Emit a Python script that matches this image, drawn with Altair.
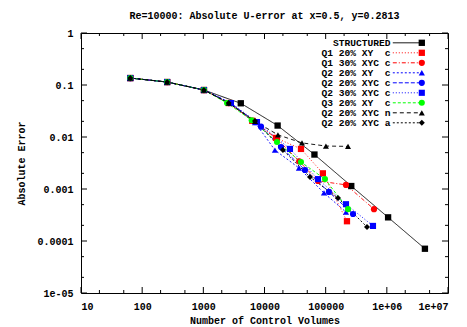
import altair as alt
import pandas as pd

# ---------------- data ----------------
series_names = ["STRUCTURED", "Q1 20% XY  c", "Q1 30% XYC c", "Q2 20% XY  c",
                "Q2 20% XYC c", "Q2 30% XYC c", "Q3 20% XY  c", "Q2 20% XYC n",
                "Q2 20% XYC a"]

x_structured = [64, 256, 1024, 4096, 16384, 65536, 262144, 1048576, 4194304]
y_structured = [0.136, 0.114, 0.080, 0.0445, 0.0166, 0.0046, 0.00114, 0.000285, 0.000071]

x_q1_20_xy = [64, 256, 1024, 2600, 6300, 15400, 39500, 90000, 223000]
y_q1_20_xy = [0.136, 0.114, 0.080, 0.045, 0.0205, 0.0096, 0.0059, 0.0020, 0.00024]

x_q1_30_xyc = [64, 256, 1024, 2600, 6500, 16000, 37000, 75000, 215000, 617000]
y_q1_30_xyc = [0.136, 0.114, 0.080, 0.045, 0.0205, 0.0092, 0.0034, 0.00143, 0.0012, 0.00041]

x_q2_20_xy = [64, 256, 1024, 2700, 7000, 14800, 36600, 93900, 215000]
y_q2_20_xy = [0.136, 0.114, 0.080, 0.045, 0.019, 0.0056, 0.00254, 0.00084, 0.00036]

x_q2_20_xyc = [64, 256, 1024, 2800, 8770, 18600, 45900, 113000, 280000]
y_q2_20_xyc = [0.136, 0.114, 0.080, 0.045, 0.0158, 0.0064, 0.00232, 0.00088, 0.00033]

x_q2_30_xyc = [64, 256, 1024, 2830, 7540, 26100, 74900, 215000, 594000]
y_q2_30_xyc = [0.136, 0.114, 0.080, 0.045, 0.0194, 0.0059, 0.00155, 0.00051, 0.000195]

x_q3_20_xy = [64, 256, 1024, 2440, 6170, 16000, 39500, 97500, 232000]
y_q3_20_xy = [0.136, 0.114, 0.080, 0.045, 0.021, 0.0080, 0.0033, 0.00155, 0.00041]

x_q2_20_xyc_n = [64, 256, 1024, 2600, 7000, 16600, 41000, 101000, 232000]
y_q2_20_xyc_n = [0.136, 0.114, 0.080, 0.045, 0.020, 0.011, 0.0077, 0.0067, 0.0066]

x_q2_20_xyc_a = [64, 256, 1024, 2600, 7000, 20000, 55500, 159000, 474000]
y_q2_20_xyc_a = [0.136, 0.114, 0.080, 0.045, 0.0203, 0.0056, 0.0017, 0.00067, 0.000186]

x_major = [10, 100, 1000, 10000, 100000, 1000000, 10000000]
y_major = [1, 0.1, 0.01, 0.001, 0.0001, 0.00001]
x_minor = [20, 50, 200, 500, 2000, 5000, 20000, 50000, 200000, 500000, 2000000, 5000000]
y_minor = [0.5, 0.2, 0.05, 0.02, 0.005, 0.002, 0.0005, 0.0002, 0.00005, 0.00002]

# ---------------- styles ----------------
colors = ["#000000", "#ff0000", "#ff0000", "#0000ff", "#0000ff", "#0000ff",
          "#00ff00", "#000000", "#000000"]
shapes = ["square", "square", "circle", "triangle-up", "circle", "square",
          "circle", "triangle-up", "diamond"]
sizes = [40, 36, 30, 24, 30, 56, 30, 24, 24]
dashes = [[1, 0], [1, 2], [4, 2, 1, 2], [2, 2], [4, 2], [1, 2], [3, 2], [4, 3], [2, 2]]

all_x = [x_structured, x_q1_20_xy, x_q1_30_xyc, x_q2_20_xy, x_q2_20_xyc,
         x_q2_30_xyc, x_q3_20_xy, x_q2_20_xyc_n, x_q2_20_xyc_a]
all_y = [y_structured, y_q1_20_xy, y_q1_30_xyc, y_q2_20_xy, y_q2_20_xyc,
         y_q2_30_xyc, y_q3_20_xy, y_q2_20_xyc_n, y_q2_20_xyc_a]

NB = "\u00a0"
labels = [(s + "  " if s == "STRUCTURED" else s).replace(" ", NB) for s in series_names]
marks = ["m%d" % i for i in range(len(series_names))]

rows = []
for i, (xs, ys) in enumerate(zip(all_x, all_y)):
    for k, (xv, yv) in enumerate(zip(xs, ys)):
        rows.append({"series": labels[i], "mk": marks[i], "n": xv, "err": yv, "k": k})
df = pd.DataFrame(rows)

W, H = 367, 260
FONT = "Liberation Mono"

xscale = alt.Scale(type="log", domain=[10, 1e7], nice=False)
yscale = alt.Scale(type="log", domain=[1e-5, 1], nice=False)

x_label_expr = ("datum.value >= 5000000 ? '1e+07' : (datum.value >= 500000 ? '1e+06' : "
                "toString(datum.value))")
y_label_expr = "datum.value < 0.00005 ? '1e-05' : toString(datum.value)"

xaxis_main = alt.Axis(orient="bottom", values=x_major, ticks=False, domain=False, grid=False,
                      labelExpr=x_label_expr, labelPadding=8, title="Number of Control Volumes",
                      titlePadding=4)
yaxis_main = alt.Axis(orient="left", values=y_major, ticks=False, domain=False, grid=False,
                      labelExpr=y_label_expr, labelPadding=8, title="Absolute Error",
                      titlePadding=10)

leg_common = dict(orient="none", title="", labelFont=FONT, labelFontSize=9.6,
                  labelFontWeight="bold", rowPadding={"expr": "-1.7"}, padding=0, legendY=5,
                  labelAlign="right", labelOffset={"expr": "-22"})

line_legend = alt.Legend(legendX=322, symbolType="M-5,0H5", symbolSize=36,
                         symbolStrokeWidth=1, **leg_common)
mark_legend = alt.Legend(legendX=336, symbolSize=30, labelColor="transparent", **leg_common)

lines = alt.Chart(df).mark_line(strokeWidth=0.9, clip=True).encode(
    x=alt.X("n:Q", scale=xscale, axis=xaxis_main),
    y=alt.Y("err:Q", scale=yscale, axis=yaxis_main),
    stroke=alt.Stroke("series:N", scale=alt.Scale(domain=labels, range=colors), legend=line_legend),
    strokeDash=alt.StrokeDash("series:N", scale=alt.Scale(domain=labels, range=dashes), legend=line_legend),
    order=alt.Order("k:Q"),
)

points = alt.Chart(df).mark_point(filled=True, opacity=1, clip=True).encode(
    x=alt.X("n:Q", scale=xscale, axis=xaxis_main),
    y=alt.Y("err:Q", scale=yscale, axis=yaxis_main),
    color=alt.Color("mk:N", scale=alt.Scale(domain=marks, range=colors), legend=mark_legend),
    shape=alt.Shape("mk:N", scale=alt.Scale(domain=marks, range=shapes), legend=mark_legend),
    size=alt.Size("mk:N", scale=alt.Scale(domain=marks, range=sizes), legend=None),
)


def x_ticks(vals, at, inner):
    return alt.Chart(pd.DataFrame({"n": vals})).mark_rule(
        color="#000000", strokeWidth=1, opacity=1
    ).encode(
        x=alt.X("n:Q", scale=xscale, axis=xaxis_main),
        y=alt.Y(datum=at, type="quantitative", scale=yscale, axis=yaxis_main),
        y2=alt.value(inner),
    )


def y_ticks(vals, at, inner):
    return alt.Chart(pd.DataFrame({"err": vals})).mark_rule(
        color="#000000", strokeWidth=1, opacity=1
    ).encode(
        y=alt.Y("err:Q", scale=yscale, axis=yaxis_main),
        x=alt.X(datum=at, type="quantitative", scale=xscale, axis=xaxis_main),
        x2=alt.value(inner),
    )


tick_layers = [
    x_ticks(x_major, 1e-5, H - 6), x_ticks(x_major, 1, 6),
    x_ticks(x_minor, 1e-5, H - 3), x_ticks(x_minor, 1, 3),
    y_ticks(y_major, 10, 6), y_ticks(y_major, 1e7, W - 6),
    y_ticks(y_minor, 10, 3), y_ticks(y_minor, 1e7, W - 3),
]

chart = alt.layer(lines, points, *tick_layers).properties(
    width=W, height=H,
    autosize=alt.AutoSizeParams(type="none"),
    padding={"left": 73, "top": 25, "right": 11, "bottom": 34},
    title=alt.Title("Re=10000: Absolute U-error at x=0.5, y=0.2813", font=FONT, fontSize=10,
                    fontWeight="bold", anchor="middle", offset=7, color="#000000"),
).configure_view(
    stroke="#000000", strokeWidth=1
).configure_axis(
    labelFont=FONT, titleFont=FONT, labelFontSize=10, titleFontSize=10,
    labelFontWeight="bold", titleFontWeight="bold", labelColor="#000000", titleColor="#000000"
)

chart.save("out.html", embed_options={"renderer": "svg", "actions": False})
